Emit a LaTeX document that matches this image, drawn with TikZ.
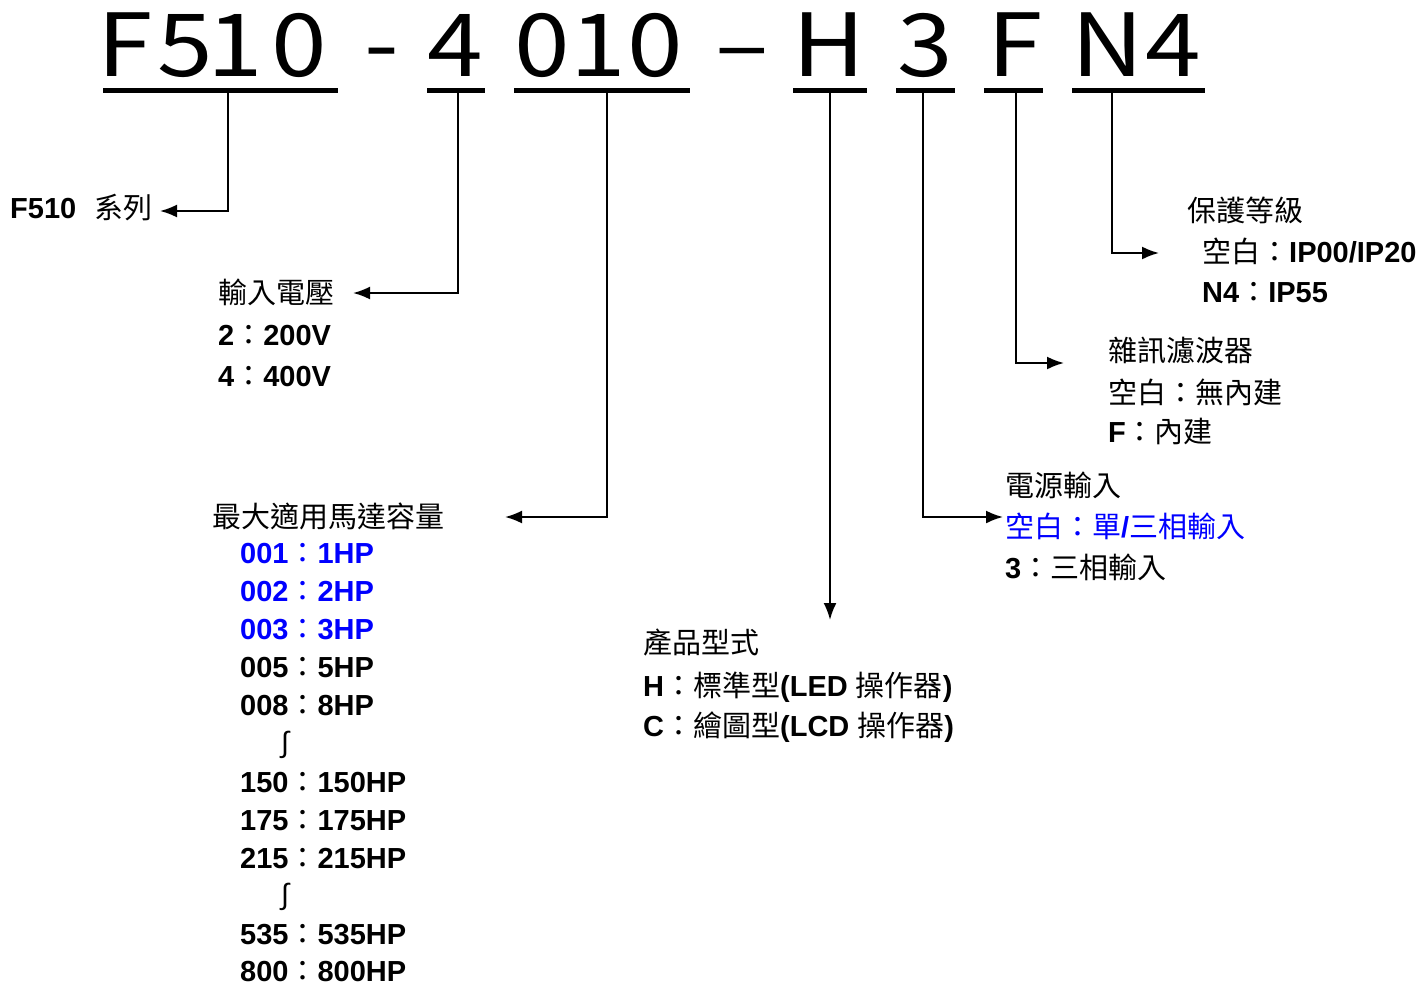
\documentclass[tikz,border=0pt]{standalone}
\usepackage{fontspec}
\setmainfont{Liberation Sans}
\newfontfamily\zhfont{Noto Sans CJK TC}
\newfontfamily\bigfont[FakeStretch=1.15]{Noto Sans CJK TC}
\usetikzlibrary{arrows.meta}
\newcommand{\zh}[1]{{\zhfont\mdseries #1}}
\definecolor{optblue}{RGB}{0,0,255}

\begin{document}
\begin{tikzpicture}[x=1pt, y=-1pt,
    txt/.style={anchor=base west, inner sep=0pt, font=\fontsize{29}{29}\selectfont\bfseries},
    bigchar/.style={anchor=base, inner sep=0pt, font=\bigfont\fontsize{87}{87}\selectfont},
    ul/.style={line width=5pt},
    lead/.style={line width=2pt, -{Latex[length=17pt,width=13pt]}}]
  \useasboundingbox (0,0) rectangle (1426,982);

  % model code, one character at a time
  \foreach \c/\x [count=\i] in {F/125, 5/185, 1/235, 0/299, 4/455, 0/542, 1/598, 0/655, H/829, 3/925, F/1015, N/1108, 4/1173}
    \node (ch\i) [bigchar] at (\x,77) {\c};
  \node (hyph) [bigchar] at (382,75) {-};
  \node (dash) [bigchar] at (742,75) {–};

  % underlines
  \draw [ul] (103,90.5) -- (338,90.5);
  \draw [ul] (427,90.5) -- (485,90.5);
  \draw [ul] (514,90.5) -- (690,90.5);
  \draw [ul] (793,90.5) -- (867,90.5);
  \draw [ul] (896,90.5) -- (955,90.5);
  \draw [ul] (984,90.5) -- (1043,90.5);
  \draw [ul] (1072,90.5) -- (1205,90.5);

  % where the leaders leave the underlines
  \coordinate (k1) at (228,92);
  \coordinate (k2) at (458,92);
  \coordinate (k3) at (607,92);
  \coordinate (k4) at (830,92);
  \coordinate (k5) at (923,92);
  \coordinate (k6) at (1016,92);
  \coordinate (k7) at (1112,92);

  % arrow tips
  \coordinate (series-tip) at (160,211);
  \coordinate (volt-tip) at (353,293);
  \coordinate (cap-tip) at (505,517);
  \coordinate (type-tip) at (830,620);
  \coordinate (supply-tip) at (1003,517);
  \coordinate (filter-tip) at (1064,363);
  \coordinate (ip-tip) at (1159,253);

  \draw [lead] (k1) |- (series-tip);
  \draw [lead] (k2) |- (volt-tip);
  \draw [lead] (k3) |- (cap-tip);
  \draw [lead] (k4) -- (type-tip);
  \draw [lead] (k5) |- (supply-tip);
  \draw [lead] (k6) |- (filter-tip);
  \draw [lead] (k7) |- (ip-tip);

  % series
  \node (series) [txt] at (10,218.5) {F510\hspace{18pt}\zh{系列}};

  % input voltage
  \node (volt) [txt] at (218,303) {\zh{輸入電壓}};
  \node (volt2) [txt] at (218,345) {2\zh{：}200V};
  \node (volt4) [txt] at (218,386) {4\zh{：}400V};

  % motor capacity
  \node (cap) [txt] at (212,527) {\zh{最大適用馬達容量}};
  \foreach \code/\hp/\y/\col in {001/1/553/optblue, 002/2/591/optblue, 003/3/629/optblue,
      005/5/667/black, 008/8/705/black, 150/150/782/black, 175/175/820/black,
      215/215/858/black, 535/535/934/black, 800/800/971/black}
    \node (hp\code) [txt, text=\col] at (240,\y+10.5) {\code\zh{：}\hp HP};
  \node (gap1) [inner sep=0pt, font=\fontsize{29}{29}\selectfont] at (285,745) {∫};
  \node (gap2) [inner sep=0pt, font=\fontsize{29}{29}\selectfont] at (285,897) {∫};

  % product type
  \node (type) [txt] at (643,653) {\zh{產品型式}};
  \node (typeH) [txt] at (643,696) {H\zh{：標準型}(LED \zh{操作器})};
  \node (typeC) [txt] at (643,736) {C\zh{：繪圖型}(LCD \zh{操作器})};

  % power supply
  \node (supply) [txt] at (1005,496) {\zh{電源輸入}};
  \node (supply1) [txt, text=optblue] at (1005,537) {\zh{空白：單}/\zh{三相輸入}};
  \node (supply3) [txt] at (1005,578) {3\zh{：三相輸入}};

  % noise filter
  \node (filter) [txt] at (1108,361) {\zh{雜訊濾波器}};
  \node (filter0) [txt] at (1108,403) {\zh{空白：無內建}};
  \node (filterF) [txt] at (1108,442) {F\zh{：內建}};

  % protection class
  \node (ip) [txt] at (1187,221) {\zh{保護等級}};
  \node (ip0) [txt] at (1202,262) {\zh{空白：}IP00/IP20};
  \node (ipN4) [txt] at (1202,302) {N4\zh{：}IP55};
\end{tikzpicture}
\end{document}
